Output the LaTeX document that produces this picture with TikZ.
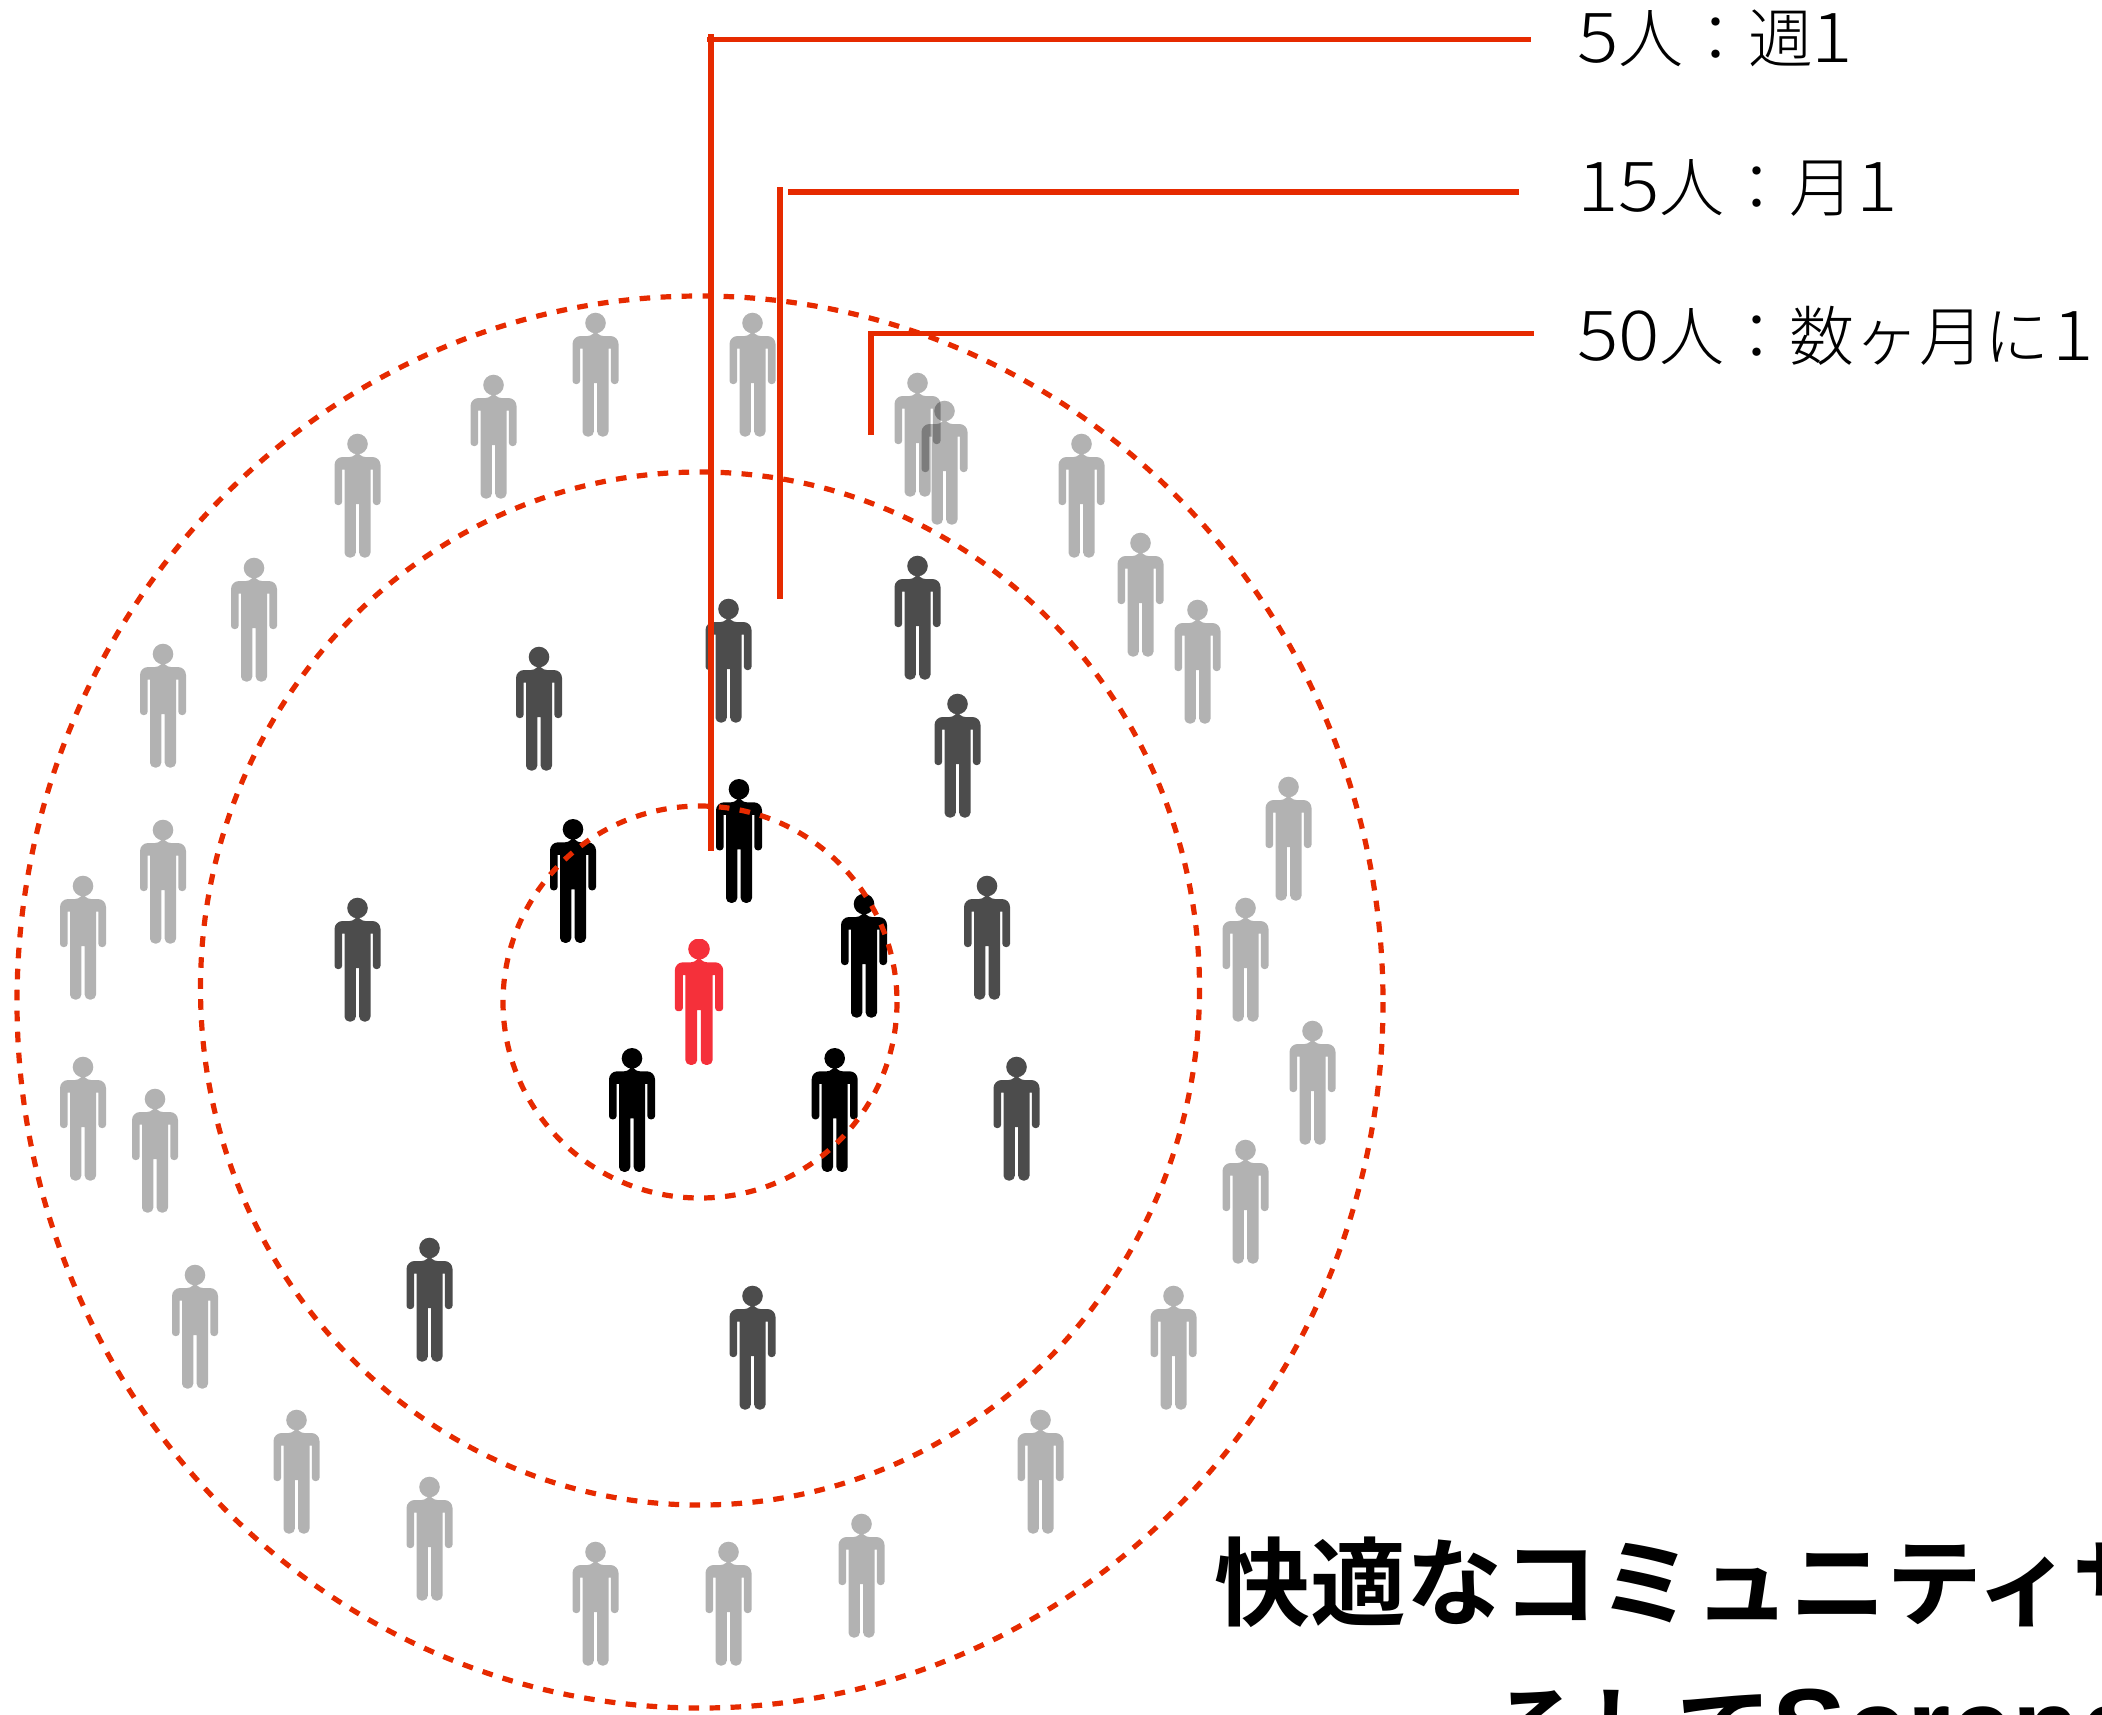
\documentclass[tikz,border=0pt]{standalone}
\usepackage{fontspec}
\newfontfamily\kjfont{Noto Sans CJK JP Light}
\newfontfamily\dgfont[FakeStretch=1.12]{Noto Sans CJK JP Light}
\newfontfamily\tkfont{Noto Sans CJK JP Bold}
\newfontfamily\tlfont{Liberation Sans Bold}
\newcommand{\kj}[1]{{\fontsize{32.5pt}{38pt}\selectfont\kjfont #1}}
\newcommand{\dg}[1]{{\fontsize{34.5pt}{38pt}\selectfont\dgfont #1}}
\newcommand{\tk}[1]{{\fontsize{48pt}{50pt}\selectfont\tkfont #1}}
\newcommand{\tl}[1]{{\fontsize{55.5pt}{50pt}\selectfont\tlfont #1}}
\definecolor{ringred}{HTML}{E62A00}
\definecolor{meared}{HTML}{F5303A}
\tikzset{
  x=0.5pt,y=-0.5pt,
  ring/.style={draw=ringred,line width=2.6pt,dash pattern=on 5.3pt off 5.2pt},
  leader/.style={draw=ringred,line width=2.9pt},
  lighter/.style={fill=black,opacity=.3},
  darker/.style={fill=black,opacity=.7},
  blacker/.style={fill=black},
  redder/.style={fill=meared},
  label/.style={anchor=base west,inner sep=0pt,outer sep=0pt,text=black},
  person/.pic={
    \path[pic actions]
      (0,0) circle [radius=10.3]
      (0,13) [rounded corners=4pt] -- (23,13) -- (23,40) [rounded corners=1.6pt]
      -- (23,61) -- (15.4,61) [sharp corners] -- (15.4,25.5) -- (13,25.5)
      [rounded corners=2.4pt] -- (13,113.5) -- (1.7,113.5) [sharp corners] -- (1.7,60) -- (-1.7,60)
      [rounded corners=2.4pt] -- (-1.7,113.5) -- (-13,113.5) [sharp corners] -- (-13,25.5) -- (-15.4,25.5)
      [rounded corners=1.6pt] -- (-15.4,61) -- (-23,61) [rounded corners=4pt] -- (-23,40) -- (-23,13) -- (0,13) -- cycle;
  }
}
\begin{document}
\begin{tikzpicture}
\useasboundingbox (0,0) rectangle (2102,1714);
\clip (0,0) rectangle (2102,1714);
\foreach \px/\py in {595.5/323,752.5/323,493.5/385,917.5/383,944.5/411,357.5/444,1081.5/444,254/568,1140.5/543,1197.5/610,163/654,1288.5/787,163/830,83/886,1245.5/908,1312.5/1031,83/1067,155/1099,1245.5/1150,195/1275,1173.5/1296,296.5/1420,1040.5/1420,429.5/1487,861.5/1524,595.5/1552,728.5/1552}
  \pic[lighter] at (\px,\py) {person};
\foreach \px/\py in {728.5/609,917.5/566,539/657,957.5/704,987/886,357.5/908,1016.5/1067,429.5/1248,752.5/1296}
  \pic[darker] at (\px,\py) {person};
\foreach \px/\py in {739/789.3,573/829.3,864/904,632/1058.3,834.7/1058.3}
  \pic[blacker] at (\px,\py) {person};
\begin{scope}
\clip (640,939) rectangle (760,1064);
\pic[redder,xscale=1.05,yscale=1.02] at (699,949) {person};
\end{scope}
\draw[ring] (700,1002) ellipse [x radius=197,y radius=196];
\draw[ring] (700,988.5) ellipse [x radius=499.5,y radius=516.5];
\draw[ring] (700,1002) ellipse [x radius=683,y radius=706];
\coordinate (a1) at (710.7,34); \coordinate (a2) at (710.7,851);
\coordinate (a3) at (707,39.5); \coordinate (a4) at (1531,39.5);
\coordinate (b1) at (780,187); \coordinate (b2) at (780,599);
\coordinate (b3) at (788,192); \coordinate (b4) at (1519,192);
\coordinate (c1) at (871,435); \coordinate (c2) at (871,333.5); \coordinate (c4) at (1534,333.5);
\draw[leader] (a1) -- (a2);
\draw[leader] (a3) -- (a4);
\draw[leader] (b1) -- (b2);
\draw[leader] (b3) -- (b4);
\draw[leader,line join=miter] (c1) -- (c2) -- (c4);
\node[label] (t1) at (1577,62) {\dg{5}\kj{人：週}\hspace{-1pt}\dg{1}};
\node[label] (t2) at (1577,211) {\dg{15}\kj{人：月}\hspace{1pt}\dg{1}};
\node[label] (t3) at (1577,360) {\dg{50}\kj{人：数ヶ月に}\hspace{1.5pt}\dg{1}};
\node[label] (h1) at (1214,1618) {\tk{快適なコミュニティサ}};
\node[label] (h2) at (1487,1766) {\tk{そして}\tl{Serend}};
\end{tikzpicture}
\end{document}
